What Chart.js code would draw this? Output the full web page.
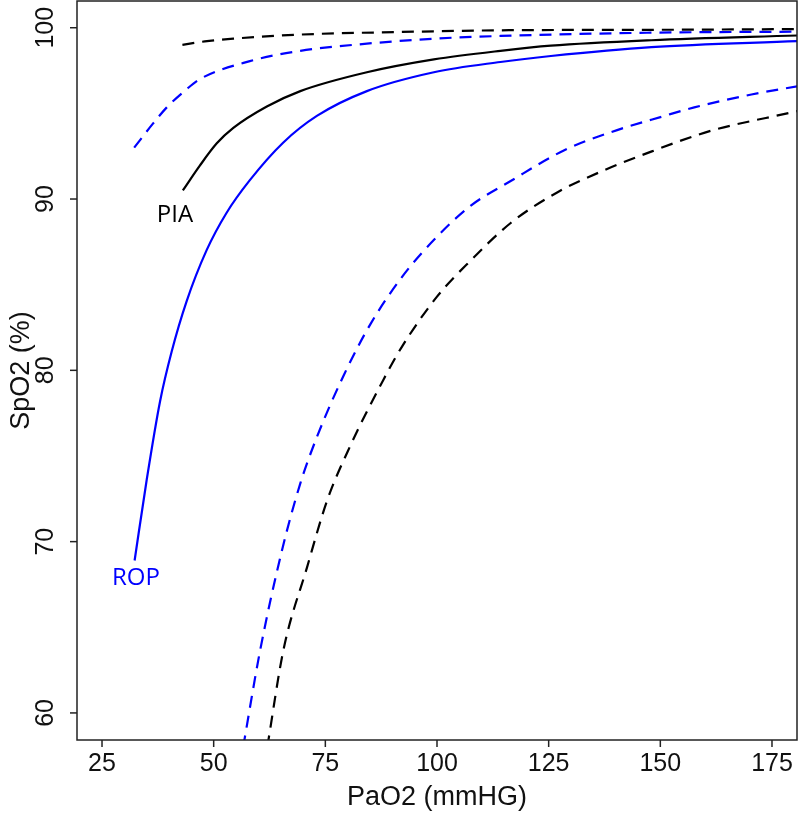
<!DOCTYPE html>
<html>
<head>
<meta charset="utf-8">
<script src="https://cdn.jsdelivr.net/npm/chart.js@4"></script>
<style>
  html, body { margin: 0; padding: 0; background: #fff; }
  #wrap { width: 800px; height: 813px; }
</style>
</head>
<body>
<div id="wrap"><canvas id="chart" width="800" height="813"></canvas></div>
<script>
// PaO2 (x) / SpO2 (y) curves
const piaX = [43.1, 46.9, 50.7, 54.4, 61.9, 69.4, 84.3, 99.3, 114.2, 125.5, 148, 181]
const piaY = [90.5, 91.95, 93.25, 94.15, 95.4, 96.3, 97.4, 98.15, 98.65, 98.95, 99.27, 99.55]

const ropX = [32.3, 35.0, 38.0, 40.6, 43.9, 48.4, 52.9, 58.1, 65.6, 73.1, 84.3, 99.3, 114.2, 125.5, 148, 181]
const ropY = [68.9, 73.6, 78.2, 81.1, 84.0, 87.0, 89.2, 91.1, 93.3, 94.85, 96.3, 97.4, 98.0, 98.35, 98.87, 99.22]

const piaUpX = [43.0, 48.0, 54.4, 69.4, 91.8, 114.2, 150, 181]
const piaUpY = [99.0, 99.2, 99.36, 99.6, 99.75, 99.85, 99.88, 99.92]

const ropUpX = [32.2, 36.4, 39.5, 43.9, 46.9, 58.1, 69.4, 84.3, 99.3, 114.2, 148, 181]
const ropUpY = [93.0, 94.4, 95.35, 96.4, 97.0, 98.05, 98.65, 99.07, 99.36, 99.52, 99.71, 99.77]

const ropLoX = [56.6, 60.4, 65.3, 69.4, 73.1, 79.1, 85.1, 92.6, 100, 107.5, 116.5, 128.5, 138.9, 150.9, 157.6, 170.4, 181]
const ropLoY = [58.0, 63.65, 69.5, 73.4, 76.1, 79.7, 82.7, 85.6, 87.8, 89.6, 91.05, 92.85, 93.9, 94.85, 95.35, 96.1, 96.6]

const piaLoX = [62.0, 65.6, 70.9, 75.4, 80.6, 88.1, 92.2, 100, 107.5, 116.5, 127, 137.6, 148.8, 158.4, 162.9, 179.3, 181]
const piaLoY = [58.0, 63.65, 68.5, 72.4, 75.6, 79.5, 81.4, 84.3, 86.4, 88.6, 90.4, 91.7, 92.85, 93.75, 94.1, 95.05, 95.15]

const xTicks = [25, 50, 75, 100, 125, 150, 175]
const yTicks = [60, 70, 80, 90, 100]

const BLUE = '#0000ff'
const BLACK = '#000000'

function pts(xs, ys) {
  return xs.map((x, i) => ({ x: x, y: ys[i] }))
}

function line(label, xs, ys, color, dashed) {
  return {
    label: label,
    data: pts(xs, ys),
    borderColor: color,
    borderWidth: 2.2,
    borderDash: dashed ? [12, 8] : [],
    pointRadius: 0,
    showLine: true,
    fill: false,
    cubicInterpolationMode: 'monotone'
  }
}

// axes, box and labels drawn R-style
const frame = {
  id: 'frame',
  afterDraw(chart) {
    const ctx = chart.ctx
    const a = chart.chartArea
    const xs = chart.scales.x
    const ys = chart.scales.y
    ctx.save()
    ctx.strokeStyle = '#222'
    ctx.lineWidth = 1.5
    ctx.strokeRect(a.left, a.top, a.right - a.left, a.bottom - a.top)

    ctx.fillStyle = '#111'
    ctx.font = '25px "Liberation Sans", Arial, sans-serif'
    ctx.textAlign = 'center'
    ctx.textBaseline = 'middle'
    xTicks.forEach(v => {
      const px = xs.getPixelForValue(v)
      ctx.beginPath()
      ctx.moveTo(px, a.bottom)
      ctx.lineTo(px, a.bottom + 7)
      ctx.stroke()
      ctx.fillText(String(v), px, a.bottom + 24)
    })
    yTicks.forEach(v => {
      const py = ys.getPixelForValue(v)
      ctx.beginPath()
      ctx.moveTo(a.left, py)
      ctx.lineTo(a.left - 7, py)
      ctx.stroke()
      ctx.save()
      ctx.translate(a.left - 31, py)
      ctx.rotate(-Math.PI / 2)
      ctx.fillText(String(v), 0, 0)
      ctx.restore()
    })

    ctx.font = '27px "Liberation Sans", Arial, sans-serif'
    ctx.fillText('PaO2 (mmHG)', (a.left + a.right) / 2, a.bottom + 58)
    ctx.save()
    ctx.translate(22, (a.top + a.bottom) / 2)
    ctx.rotate(-Math.PI / 2)
    ctx.fillText('SpO2 (%)', 0, 0)
    ctx.restore()

    ctx.font = '24px "Open Sans", "Noto Sans", sans-serif'
    ctx.fillStyle = BLACK
    ctx.fillText('PIA', 175, 215)
    ctx.fillStyle = BLUE
    ctx.fillText('ROP', 136, 578)
    ctx.restore()
  }
}

new Chart(document.getElementById('chart').getContext('2d'), {
  type: 'scatter',
  data: {
    datasets: [
      line('PIA', piaX, piaY, BLACK, false),
      line('ROP', ropX, ropY, BLUE, false),
      line('PIA upper', piaUpX, piaUpY, BLACK, true),
      line('ROP upper', ropUpX, ropUpY, BLUE, true),
      line('ROP lower', ropLoX, ropLoY, BLUE, true),
      line('PIA lower', piaLoX, piaLoY, BLACK, true)
    ]
  },
  options: {
    responsive: false,
    animation: false,
    layout: { padding: { top: 1, right: 3, left: 0, bottom: 0 } },
    plugins: {
      legend: { display: false },
      tooltip: { enabled: false }
    },
    scales: {
      x: {
        type: 'linear',
        min: 19.4,
        max: 180.6,
        grid: { display: false },
        border: { display: false },
        ticks: { display: false },
        afterFit(scale) { scale.height = 73 }
      },
      y: {
        type: 'linear',
        min: 58.42,
        max: 101.56,
        grid: { display: false },
        border: { display: false },
        ticks: { display: false },
        afterFit(scale) { scale.width = 77 }
      }
    }
  },
  plugins: [frame]
})
</script>
</body>
</html>
